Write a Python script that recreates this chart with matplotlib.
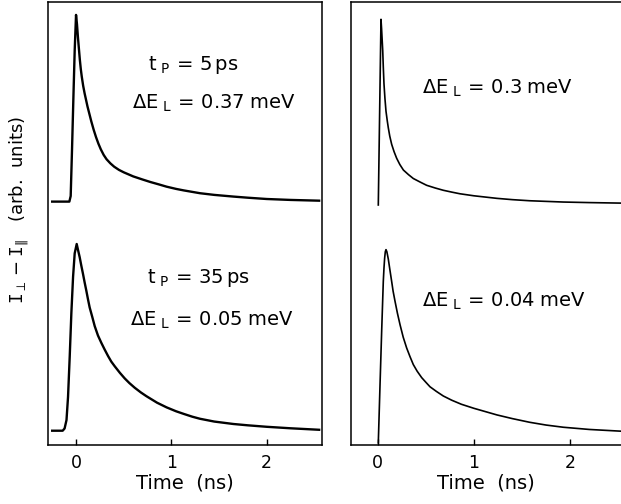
import numpy as np
import matplotlib
matplotlib.use('Agg')
import matplotlib.pyplot as plt

plt.rcParams['font.family'] = 'DejaVu Sans'
plt.rcParams['mathtext.fontset'] = 'dejavusans'

# measured traces, time in ns, signal normalised to the first peak (arb. units)
t_5ps = [-0.25, -0.07, -0.056, -0.042, -0.028, -0.014, 0.0, 0.01, 0.02, 0.03, 0.04, 0.05, 0.06,
         0.075, 0.09, 0.105, 0.12, 0.14, 0.16, 0.185, 0.21, 0.235, 0.26, 0.29, 0.32, 0.36, 0.40,
         0.45, 0.50, 0.60, 0.70, 0.78, 0.87, 0.95, 1.05, 1.13, 1.30, 1.45, 1.65, 1.8, 2.0, 2.25,
         2.55]
s_5ps = [0.0, 0.0, 0.03, 0.28, 0.55, 0.81, 1.0, 0.95, 0.88, 0.82, 0.76, 0.71, 0.67,
         0.62, 0.58, 0.545, 0.51, 0.47, 0.43, 0.385, 0.345, 0.31, 0.28, 0.25, 0.227, 0.205, 0.187,
         0.17, 0.157, 0.135, 0.118, 0.105, 0.092, 0.08, 0.068, 0.06, 0.045, 0.036, 0.027, 0.021,
         0.014, 0.009, 0.005]

t_35ps = [-0.25, -0.14, -0.12, -0.10, -0.084, -0.066, -0.049, -0.031, -0.014, 0.007, 0.02, 0.038,
          0.055, 0.073, 0.09, 0.108, 0.125, 0.143, 0.17, 0.196, 0.23, 0.266, 0.30, 0.336, 0.37,
          0.406, 0.46, 0.511, 0.56, 0.616, 0.68, 0.738, 0.85, 0.95, 1.05, 1.13, 1.22, 1.30, 1.45,
          1.65, 1.8, 2.0, 2.25, 2.55]
s_35ps = [0.0, 0.0, 0.012, 0.057, 0.18, 0.40, 0.63, 0.825, 0.95, 1.0, 0.97, 0.93,
          0.885, 0.84, 0.795, 0.75, 0.705, 0.66, 0.61, 0.56, 0.51, 0.47, 0.435, 0.40, 0.37,
          0.345, 0.31, 0.28, 0.255, 0.23, 0.205, 0.185, 0.15, 0.125, 0.104, 0.09, 0.075, 0.064,
          0.049, 0.036, 0.029, 0.021, 0.013, 0.005]

# calculated traces
t_03 = [0.006, 0.034, 0.04, 0.045, 0.052, 0.058, 0.065, 0.075, 0.086, 0.10, 0.11, 0.125, 0.145,
        0.17, 0.197, 0.23, 0.267, 0.32, 0.37, 0.44, 0.509, 0.6, 0.682, 0.77, 0.855, 1.0, 1.24,
        1.4, 1.58, 1.93, 2.2, 2.55]
s_03 = [-0.01, 1.0, 0.95, 0.90, 0.83, 0.74, 0.65, 0.57, 0.50, 0.445, 0.41, 0.365, 0.32,
        0.28, 0.244, 0.21, 0.18, 0.155, 0.134, 0.115, 0.097, 0.082, 0.07, 0.06, 0.051, 0.04, 0.026,
        0.019, 0.013, 0.006, 0.003, 0.0]

t_004 = [0.006, 0.024, 0.041, 0.058, 0.065, 0.072, 0.079, 0.086, 0.095, 0.11, 0.127, 0.145,
         0.16, 0.18, 0.205, 0.232, 0.265, 0.301, 0.335, 0.37, 0.41, 0.457, 0.5, 0.544, 0.61,
         0.682, 0.77, 0.87, 1.0, 1.24, 1.4, 1.58, 1.75, 1.93, 2.2, 2.55]
s_004 = [0.0, 0.317, 0.607, 0.878, 0.95, 1.005, 1.04, 1.051, 1.04, 1.0, 0.94, 0.878,
         0.825, 0.77, 0.705, 0.643, 0.575, 0.516, 0.47, 0.426, 0.39, 0.355, 0.33, 0.305, 0.28,
         0.255, 0.232, 0.21, 0.188, 0.152, 0.132, 0.112, 0.097, 0.085, 0.073, 0.063]

labels_left = [(r'$\mathregular{t_{\ P}\,=\,5\,ps}$', r'$\mathregular{\Delta E_{\ L}\,=\,0.37\;meV}$'),
               (r'$\mathregular{t_{\ P}\,=\,35\,ps}$', r'$\mathregular{\Delta E_{\ L}\,=\,0.05\;meV}$')]
labels_right = [r'$\mathregular{\Delta E_{\ L}\,=\,0.3\;meV}$', r'$\mathregular{\Delta E_{\ L}\,=\,0.04\;meV}$']

fig = plt.figure(figsize=(6.21, 5.04), dpi=100)
ax1 = fig.add_axes([0.0773, 0.118, 0.4412, 0.878])
ax2 = fig.add_axes([0.5652, 0.118, 0.4348, 0.878])

# left panel: experiment, upper trace shifted up
ax1.plot(t_5ps, np.array(s_5ps) + 1.227, color='black', lw=1.7)
ax1.plot(t_35ps, s_35ps, color='black', lw=1.7)
ax1.set_xlim(-0.294, 2.58)
ax1.set_ylim(-0.074, 2.296)

# right panel: theory
ax2.plot(t_03, np.array(s_03) + 1.304, color='black', lw=1.2)
ax2.plot(t_004, s_004, color='black', lw=1.2)
ax2.set_xlim(-0.278, 2.53)
ax2.set_ylim(-0.009, 2.398)
ax2.spines['right'].set_visible(False)

for ax in (ax1, ax2):
    ax.set_xticks([0, 1, 2])
    ax.set_yticks([])
    ax.tick_params(axis='x', direction='in', length=4, width=1, pad=7, labelsize=12.5)
    for sp in ax.spines.values():
        sp.set_linewidth(1.1)
    ax.set_xlabel('Time  (ns)', fontsize=14, labelpad=1)

fs = 14
ax1.text(0.365, 0.858, labels_left[0][0], transform=ax1.transAxes, fontsize=fs, va='center')
ax1.text(0.307, 0.772, labels_left[0][1], transform=ax1.transAxes, fontsize=fs, va='center')
ax1.text(0.360, 0.376, labels_left[1][0], transform=ax1.transAxes, fontsize=fs, va='center')
ax1.text(0.299, 0.281, labels_left[1][1], transform=ax1.transAxes, fontsize=fs, va='center')
ax2.text(0.262, 0.805, labels_right[0], transform=ax2.transAxes, fontsize=fs, va='center')
ax2.text(0.262, 0.323, labels_right[1], transform=ax2.transAxes, fontsize=fs, va='center')

fig.text(0.032, 0.583, r'$\mathtt{I}_{\perp}-\mathtt{I}_{\Vert}$   (arb.  units)',
         rotation=90, fontsize=13, ha='center', va='center')

fig.savefig('out.png', dpi=100)
